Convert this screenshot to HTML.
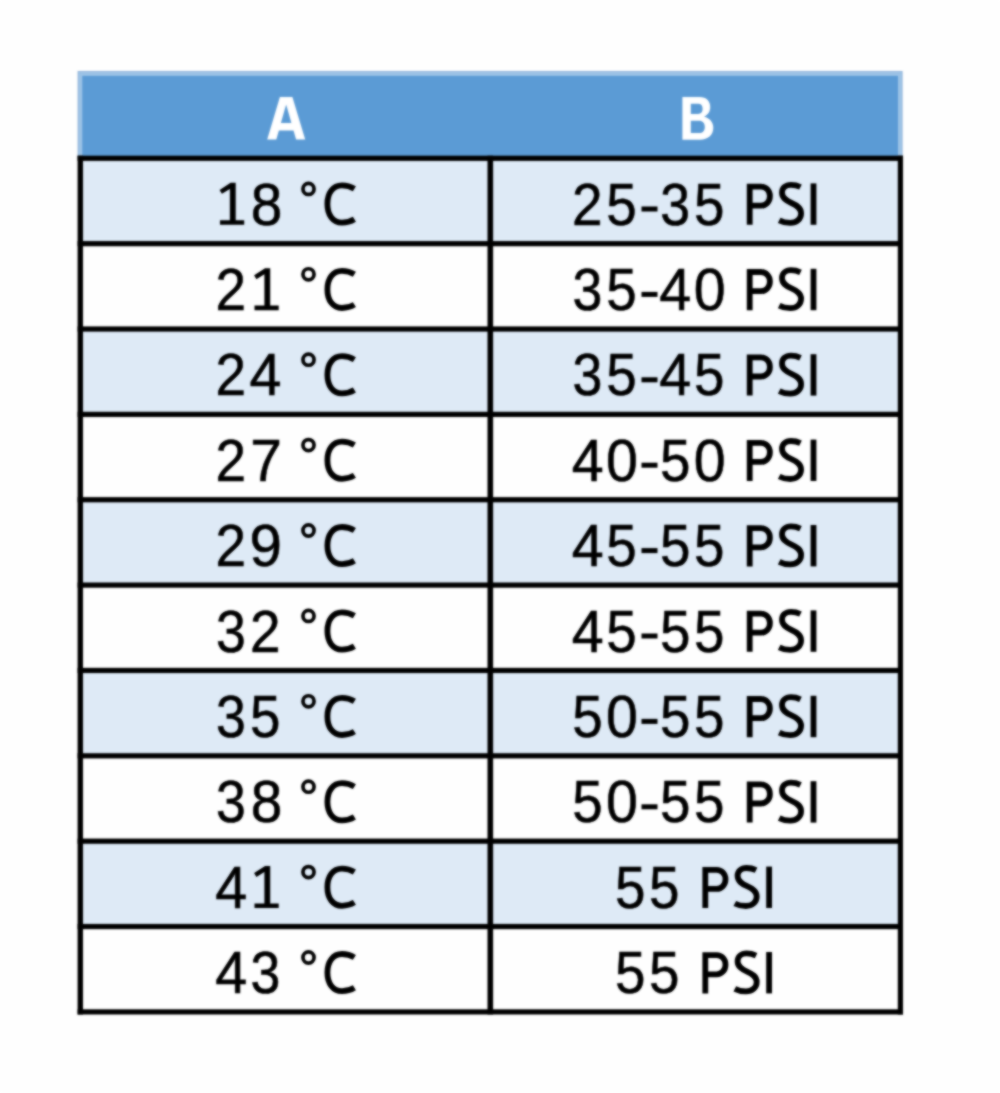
<!DOCTYPE html>
<html><head><meta charset="utf-8"><title>Table</title>
<style>
html,body{margin:0;padding:0;background:#fefefe;}
body{width:1000px;height:1093px;position:relative;overflow:hidden;font-family:"Liberation Sans",sans-serif;}
#w{position:absolute;left:0;top:0;width:1000px;height:1093px;background:#fefefe;filter:url(#soft);}
.t{position:absolute;left:0;top:0;white-space:pre;color:#000;transform-origin:0 0;font-family:"Liberation Sans",sans-serif;font-size:60px;line-height:60px;-webkit-text-stroke:0.6px #000;}
.h{-webkit-text-stroke:0.5px #fff;color:#fff;font-weight:bold;letter-spacing:0;font-size:61px;line-height:61px;}
#gl{position:absolute;left:0;top:0;width:1000px;height:1093px;}
#gl .s{fill:none;stroke:#000;stroke-width:5.8;stroke-linecap:butt;stroke-linejoin:miter;}
#gl .k{fill:#000;}
#gl .b{fill:#deeaf6;}
</style></head><body>
<svg width="0" height="0" style="position:absolute"><defs><filter id="soft" x="0" y="0" width="100%" height="100%" color-interpolation-filters="sRGB"><feGaussianBlur stdDeviation="1" result="b"/><feComposite in="SourceGraphic" in2="b" operator="arithmetic" k1="0" k2="0.2" k3="0.8" k4="0"/></filter></defs></svg>
<div id="w">
<svg id="gl" viewBox="0 0 1000 1093">
<defs>
<g id="gC"><path class="s" d="M354.4,188.8 C350.8,186.6 346.6,185.4 342,185.4 C333,185.4 327.4,193 327.4,204 C327.4,215 333,222.6 342,222.6 C346.6,222.6 350.8,221.4 354.4,219.2"/></g>
<g id="gD"><circle class="s" style="stroke-width:3.7" cx="308.5" cy="188.9" r="5.55"/></g>
<g id="gP"><path class="s" d="M749.7,224.8 V186.6 H761 C766,186.6 769.9,190.5 769.9,196.1 C769.9,201.7 766,205.7 761,205.7 H749.7"/></g>
<g id="gS"><path class="s" d="M800.5,187 C797.6,185.6 794.5,184.8 791,184.8 C785.5,184.8 782,188 782,192.6 C782,198 786,200.5 791.5,203 C797,205.5 801.1,208 801.1,213.4 C801.1,219 796.5,222.8 790.3,222.8 C786,222.8 782.5,222 779.2,220.3"/></g>
<g id="gI"><rect class="k" x="810.6" y="183.4" width="5.8" height="41.4"/></g>
<g id="g1"><path class="k" d="M235.7,182.8 H230.6 L219.6,189.9 L221.9,193.8 L229.9,188.9 V220.2 H220 V224.8 H244.2 V220.2 H235.7 Z"/></g>
<g id="gH"><rect class="k" x="641.5" y="206.5" width="16" height="5"/></g>
</defs>
<rect x="77.6" y="71.0" width="825.0" height="87.3" fill="#8fb1d8"/>
<rect x="78.5" y="71.9" width="823.2" height="87.3" fill="#9dc3e6"/>
<rect x="82.3" y="75.8" width="815.7" height="82.5" fill="#5b9bd5"/>
<rect class="b" x="80" y="158.30" width="821" height="85.36"/>
<rect class="b" x="80" y="329.02" width="821" height="85.36"/>
<rect class="b" x="80" y="499.74" width="821" height="85.36"/>
<rect class="b" x="80" y="670.46" width="821" height="85.36"/>
<rect class="b" x="80" y="841.18" width="821" height="85.36"/>
<rect class="k" x="77.6" y="155.70" width="825.4" height="5.2"/>
<rect class="k" x="77.6" y="241.06" width="825.4" height="5.2"/>
<rect class="k" x="77.6" y="326.42" width="825.4" height="5.2"/>
<rect class="k" x="77.6" y="411.78" width="825.4" height="5.2"/>
<rect class="k" x="77.6" y="497.14" width="825.4" height="5.2"/>
<rect class="k" x="77.6" y="582.50" width="825.4" height="5.2"/>
<rect class="k" x="77.6" y="667.86" width="825.4" height="5.2"/>
<rect class="k" x="77.6" y="753.22" width="825.4" height="5.2"/>
<rect class="k" x="77.6" y="838.58" width="825.4" height="5.2"/>
<rect class="k" x="77.6" y="923.94" width="825.4" height="5.2"/>
<rect class="k" x="77.6" y="1009.30" width="825.4" height="5.2"/>
<rect class="k" x="77.6" y="155.70" width="5.4" height="858.80"/>
<rect class="k" x="487.5" y="155.70" width="5.6" height="858.80"/>
<rect class="k" x="897.8" y="155.70" width="5.2" height="858.80"/>
<g transform="translate(0,0.0)"><use href="#gD"/><use href="#gC"/><use href="#g1"/></g>
<g transform="translate(0,0.0)"><use href="#gP"/><use href="#gS"/><use href="#gI"/></g>
<g transform="translate(0,0.0)"><use href="#gH"/></g>
<g transform="translate(0,85.4)"><use href="#gD"/><use href="#gC"/><use href="#g1" x="34.5"/></g>
<g transform="translate(0,85.4)"><use href="#gP"/><use href="#gS"/><use href="#gI"/></g>
<g transform="translate(0,85.4)"><use href="#gH"/></g>
<g transform="translate(0,170.8)"><use href="#gD"/><use href="#gC"/></g>
<g transform="translate(0,170.8)"><use href="#gP"/><use href="#gS"/><use href="#gI"/></g>
<g transform="translate(0,170.8)"><use href="#gH"/></g>
<g transform="translate(0,256.2)"><use href="#gD"/><use href="#gC"/></g>
<g transform="translate(0,256.2)"><use href="#gP"/><use href="#gS"/><use href="#gI"/></g>
<g transform="translate(0,256.2)"><use href="#gH"/></g>
<g transform="translate(0,341.6)"><use href="#gD"/><use href="#gC"/></g>
<g transform="translate(0,341.6)"><use href="#gP"/><use href="#gS"/><use href="#gI"/></g>
<g transform="translate(0,341.6)"><use href="#gH"/></g>
<g transform="translate(0,427.0)"><use href="#gD"/><use href="#gC"/></g>
<g transform="translate(0,427.0)"><use href="#gP"/><use href="#gS"/><use href="#gI"/></g>
<g transform="translate(0,427.0)"><use href="#gH"/></g>
<g transform="translate(0,512.4)"><use href="#gD"/><use href="#gC"/></g>
<g transform="translate(0,512.4)"><use href="#gP"/><use href="#gS"/><use href="#gI"/></g>
<g transform="translate(0,512.4)"><use href="#gH"/></g>
<g transform="translate(0,597.8)"><use href="#gD"/><use href="#gC"/></g>
<g transform="translate(0,597.8)"><use href="#gP"/><use href="#gS"/><use href="#gI"/></g>
<g transform="translate(0,597.8)"><use href="#gH"/></g>
<g transform="translate(0,683.2)"><use href="#gD"/><use href="#gC"/><use href="#g1" x="34.5"/></g>
<g transform="translate(-44.4,683.2)"><use href="#gP"/><use href="#gS"/><use href="#gI"/></g>
<g transform="translate(0,768.6)"><use href="#gD"/><use href="#gC"/></g>
<g transform="translate(-44.4,768.6)"><use href="#gP"/><use href="#gS"/><use href="#gI"/></g>
<path fill="#fff" fill-rule="evenodd" d="M267.2,139.5 L279.9,97 H292.4 L305.2,139.5 H296.1 L293.5,130.6 H278.9 L276.3,139.5 Z M286.15,104.6 L291.4,123.1 H280.9 Z"/>
<path fill="#fff" fill-rule="evenodd" d="M682.4,97 H699.5 C706.4,97 710.2,101 710.2,107 C710.2,111.6 708,115 704,116.7 C709.6,118 713.3,122 713.3,127.8 C713.3,135 708,139.7 700,139.7 H682.4 Z M690.8,103.7 V113.9 H698 C701.2,113.9 702.6,111.7 702.6,108.7 C702.6,105.6 701.2,103.7 698,103.7 Z M690.8,120.7 V133 H699 C702.8,133 704.8,130.7 704.8,126.9 C704.8,123.1 702.8,120.7 699,120.7 Z"/>
</svg>
<div class="t " style="transform:translate(250.82px,174.61px) scaleX(0.946)">8</div>
<div class="t " style="transform:translate(572.11px,174.61px) scaleX(0.916)">2</div>
<div class="t " style="transform:translate(606.28px,174.61px) scaleX(0.912)">5</div>
<div class="t " style="transform:translate(660.22px,174.61px) scaleX(0.895)">3</div>
<div class="t " style="transform:translate(693.88px,174.61px) scaleX(0.912)">5</div>
<div class="t " style="transform:translate(215.51px,260.01px) scaleX(0.916)">2</div>
<div class="t " style="transform:translate(572.62px,260.01px) scaleX(0.895)">3</div>
<div class="t " style="transform:translate(606.28px,260.01px) scaleX(0.912)">5</div>
<div class="t " style="transform:translate(659.37px,260.01px) scaleX(0.957)">4</div>
<div class="t " style="transform:translate(693.65px,260.01px) scaleX(0.956)">0</div>
<div class="t " style="transform:translate(215.51px,345.41px) scaleX(0.916)">2</div>
<div class="t " style="transform:translate(249.57px,345.41px) scaleX(0.957)">4</div>
<div class="t " style="transform:translate(572.62px,345.41px) scaleX(0.895)">3</div>
<div class="t " style="transform:translate(606.28px,345.41px) scaleX(0.912)">5</div>
<div class="t " style="transform:translate(659.37px,345.41px) scaleX(0.957)">4</div>
<div class="t " style="transform:translate(693.88px,345.41px) scaleX(0.912)">5</div>
<div class="t " style="transform:translate(215.51px,430.81px) scaleX(0.916)">2</div>
<div class="t " style="transform:translate(250.37px,430.81px) scaleX(0.947)">7</div>
<div class="t " style="transform:translate(571.77px,430.81px) scaleX(0.957)">4</div>
<div class="t " style="transform:translate(606.05px,430.81px) scaleX(0.956)">0</div>
<div class="t " style="transform:translate(659.88px,430.81px) scaleX(0.912)">5</div>
<div class="t " style="transform:translate(693.65px,430.81px) scaleX(0.956)">0</div>
<div class="t " style="transform:translate(215.51px,516.21px) scaleX(0.916)">2</div>
<div class="t " style="transform:translate(249.56px,516.21px) scaleX(0.971)">9</div>
<div class="t " style="transform:translate(571.77px,516.21px) scaleX(0.957)">4</div>
<div class="t " style="transform:translate(606.28px,516.21px) scaleX(0.912)">5</div>
<div class="t " style="transform:translate(659.88px,516.21px) scaleX(0.912)">5</div>
<div class="t " style="transform:translate(693.88px,516.21px) scaleX(0.912)">5</div>
<div class="t " style="transform:translate(216.02px,601.61px) scaleX(0.895)">3</div>
<div class="t " style="transform:translate(249.91px,601.61px) scaleX(0.916)">2</div>
<div class="t " style="transform:translate(571.77px,601.61px) scaleX(0.957)">4</div>
<div class="t " style="transform:translate(606.28px,601.61px) scaleX(0.912)">5</div>
<div class="t " style="transform:translate(659.88px,601.61px) scaleX(0.912)">5</div>
<div class="t " style="transform:translate(693.88px,601.61px) scaleX(0.912)">5</div>
<div class="t " style="transform:translate(216.02px,687.01px) scaleX(0.895)">3</div>
<div class="t " style="transform:translate(250.08px,687.01px) scaleX(0.912)">5</div>
<div class="t " style="transform:translate(572.28px,687.01px) scaleX(0.912)">5</div>
<div class="t " style="transform:translate(606.05px,687.01px) scaleX(0.956)">0</div>
<div class="t " style="transform:translate(659.88px,687.01px) scaleX(0.912)">5</div>
<div class="t " style="transform:translate(693.88px,687.01px) scaleX(0.912)">5</div>
<div class="t " style="transform:translate(216.02px,772.41px) scaleX(0.895)">3</div>
<div class="t " style="transform:translate(250.82px,772.41px) scaleX(0.946)">8</div>
<div class="t " style="transform:translate(572.28px,772.41px) scaleX(0.912)">5</div>
<div class="t " style="transform:translate(606.05px,772.41px) scaleX(0.956)">0</div>
<div class="t " style="transform:translate(659.88px,772.41px) scaleX(0.912)">5</div>
<div class="t " style="transform:translate(693.88px,772.41px) scaleX(0.912)">5</div>
<div class="t " style="transform:translate(215.17px,857.81px) scaleX(0.957)">4</div>
<div class="t " style="transform:translate(615.08px,857.81px) scaleX(0.912)">5</div>
<div class="t " style="transform:translate(649.08px,857.81px) scaleX(0.912)">5</div>
<div class="t " style="transform:translate(215.17px,943.21px) scaleX(0.957)">4</div>
<div class="t " style="transform:translate(250.42px,943.21px) scaleX(0.895)">3</div>
<div class="t " style="transform:translate(615.08px,943.21px) scaleX(0.912)">5</div>
<div class="t " style="transform:translate(649.08px,943.21px) scaleX(0.912)">5</div>
</div></body></html>
